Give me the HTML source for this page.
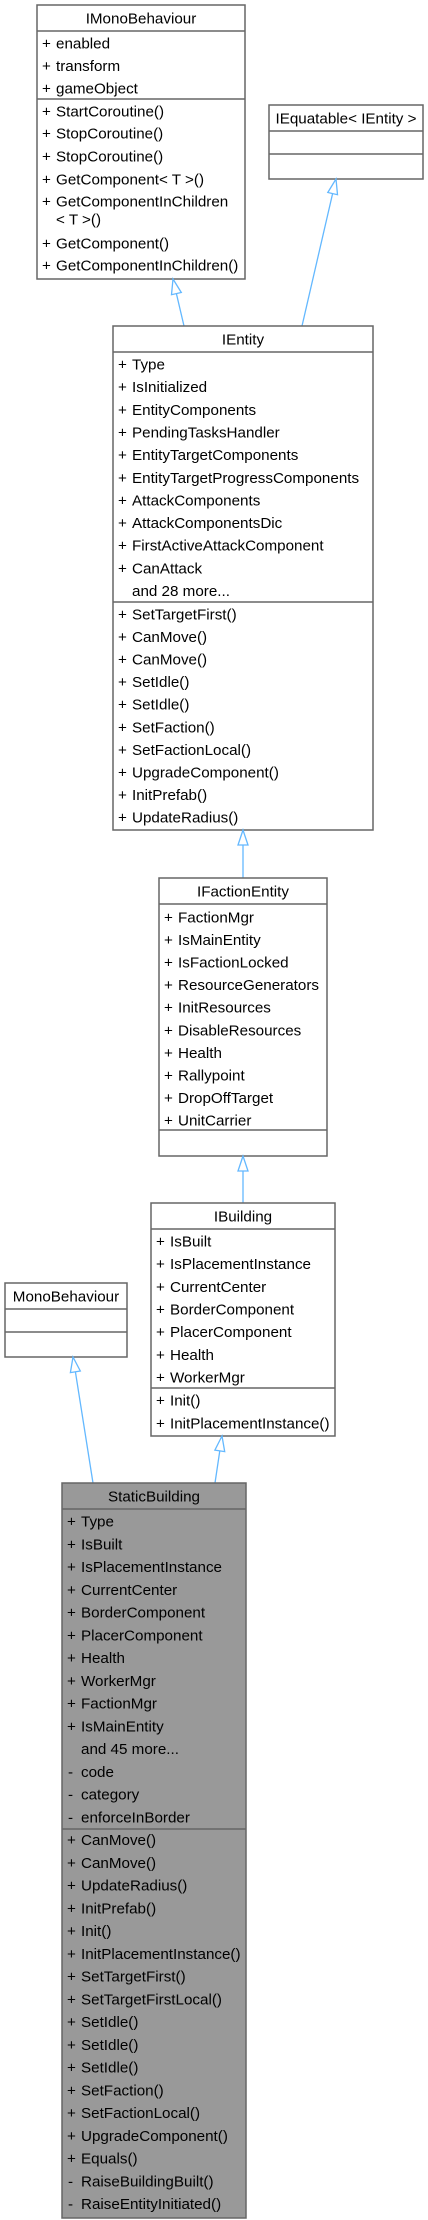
<!DOCTYPE html>
<html><head><meta charset="utf-8"><style>
html,body{margin:0;padding:0;background:#fff;}
svg{display:block;}
text{font-family:"Liberation Sans",Arial,sans-serif;font-size:15.2px;fill:#000;}
.t{text-anchor:middle;}
.b{fill:#fff;stroke:#666;stroke-width:1.5;}
.s{fill:#999;stroke:#666;stroke-width:1.5;}
.l{stroke:#666;stroke-width:1.5;}
.a{stroke:#63b8ff;stroke-width:1.3;fill:none;}
.h{stroke:#63b8ff;stroke-width:1.3;fill:#fff;}
</style></head><body>
<svg width="428" height="2220" viewBox="0 0 428 2220" xmlns="http://www.w3.org/2000/svg">
<rect class="b" x="37" y="5" width="208" height="274"/>
<line class="l" x1="37" y1="31" x2="245" y2="31"/>
<line class="l" x1="37" y1="99" x2="245" y2="99"/>
<text class="t" x="141" y="23.5">IMonoBehaviour</text>
<g>
<text x="42" y="48.5">+</text><text x="56" y="48.5">enabled</text>
<text x="42" y="71">+</text><text x="56" y="71">transform</text>
<text x="42" y="93.5">+</text><text x="56" y="93.5">gameObject</text>
<text x="42" y="116.5">+</text><text x="56" y="116.5">StartCoroutine()</text>
<text x="42" y="138.5">+</text><text x="56" y="138.5">StopCoroutine()</text>
<text x="42" y="161.5">+</text><text x="56" y="161.5">StopCoroutine()</text>
<text x="42" y="184.5">+</text><text x="56" y="184.5">GetComponent&lt; T &gt;()</text>
<text x="42" y="206.5">+</text><text x="56" y="206.5">GetComponentInChildren</text>
<text x="56" y="224.5">&lt; T &gt;()</text>
<text x="42" y="248.5">+</text><text x="56" y="248.5">GetComponent()</text>
<text x="42" y="270.5">+</text><text x="56" y="270.5">GetComponentInChildren()</text>
</g>
<rect class="b" x="269" y="105" width="154" height="74"/>
<line class="l" x1="269" y1="131" x2="423" y2="131"/>
<line class="l" x1="269" y1="154" x2="423" y2="154"/>
<text class="t" x="346" y="123.5">IEquatable&lt; IEntity &gt;</text>
<line class="a" x1="176.4" y1="293.6" x2="184" y2="326"/>
<polygon class="h" points="173,279 171.5,294.7 181.3,292.5"/>
<line class="a" x1="332.6" y1="193.6" x2="302" y2="326"/>
<polygon class="h" points="336,179 327.8,192.5 337.5,194.7"/>
<rect class="b" x="113" y="326" width="260" height="504"/>
<line class="l" x1="113" y1="352" x2="373" y2="352"/>
<line class="l" x1="113" y1="602" x2="373" y2="602"/>
<text class="t" x="243" y="344.5">IEntity</text>
<g>
<text x="118" y="369.5">+</text><text x="132" y="369.5">Type</text>
<text x="118" y="392.2">+</text><text x="132" y="392.2">IsInitialized</text>
<text x="118" y="414.8">+</text><text x="132" y="414.8">EntityComponents</text>
<text x="118" y="437.5">+</text><text x="132" y="437.5">PendingTasksHandler</text>
<text x="118" y="460.1">+</text><text x="132" y="460.1">EntityTargetComponents</text>
<text x="118" y="482.8">+</text><text x="132" y="482.8">EntityTargetProgressComponents</text>
<text x="118" y="505.4">+</text><text x="132" y="505.4">AttackComponents</text>
<text x="118" y="528.1">+</text><text x="132" y="528.1">AttackComponentsDic</text>
<text x="118" y="550.7">+</text><text x="132" y="550.7">FirstActiveAttackComponent</text>
<text x="118" y="573.4">+</text><text x="132" y="573.4">CanAttack</text>
<text x="132" y="596">and 28 more...</text>
<text x="118" y="619.5">+</text><text x="132" y="619.5">SetTargetFirst()</text>
<text x="118" y="642">+</text><text x="132" y="642">CanMove()</text>
<text x="118" y="664.6">+</text><text x="132" y="664.6">CanMove()</text>
<text x="118" y="687.2">+</text><text x="132" y="687.2">SetIdle()</text>
<text x="118" y="709.7">+</text><text x="132" y="709.7">SetIdle()</text>
<text x="118" y="732.3">+</text><text x="132" y="732.3">SetFaction()</text>
<text x="118" y="754.9">+</text><text x="132" y="754.9">SetFactionLocal()</text>
<text x="118" y="777.4">+</text><text x="132" y="777.4">UpgradeComponent()</text>
<text x="118" y="800">+</text><text x="132" y="800">InitPrefab()</text>
<text x="118" y="822.5">+</text><text x="132" y="822.5">UpdateRadius()</text>
</g>
<line class="a" x1="243" y1="845" x2="243" y2="878"/>
<polygon class="h" points="243,830 238,845 248,845"/>
<rect class="b" x="159" y="878" width="168" height="278"/>
<line class="l" x1="159" y1="904" x2="327" y2="904"/>
<line class="l" x1="159" y1="1130" x2="327" y2="1130"/>
<text class="t" x="243" y="896.5">IFactionEntity</text>
<g>
<text x="164" y="922.5">+</text><text x="178" y="922.5">FactionMgr</text>
<text x="164" y="945.1">+</text><text x="178" y="945.1">IsMainEntity</text>
<text x="164" y="967.6">+</text><text x="178" y="967.6">IsFactionLocked</text>
<text x="164" y="990.2">+</text><text x="178" y="990.2">ResourceGenerators</text>
<text x="164" y="1012.7">+</text><text x="178" y="1012.7">InitResources</text>
<text x="164" y="1035.3">+</text><text x="178" y="1035.3">DisableResources</text>
<text x="164" y="1057.9">+</text><text x="178" y="1057.9">Health</text>
<text x="164" y="1080.4">+</text><text x="178" y="1080.4">Rallypoint</text>
<text x="164" y="1103">+</text><text x="178" y="1103">DropOffTarget</text>
<text x="164" y="1125.5">+</text><text x="178" y="1125.5">UnitCarrier</text>
</g>
<line class="a" x1="243" y1="1171" x2="243" y2="1203"/>
<polygon class="h" points="243,1156 238,1171 248,1171"/>
<rect class="b" x="151" y="1203" width="184" height="233"/>
<line class="l" x1="151" y1="1229" x2="335" y2="1229"/>
<line class="l" x1="151" y1="1388" x2="335" y2="1388"/>
<text class="t" x="243" y="1221.5">IBuilding</text>
<g>
<text x="156" y="1246.5">+</text><text x="170" y="1246.5">IsBuilt</text>
<text x="156" y="1269.2">+</text><text x="170" y="1269.2">IsPlacementInstance</text>
<text x="156" y="1291.8">+</text><text x="170" y="1291.8">CurrentCenter</text>
<text x="156" y="1314.5">+</text><text x="170" y="1314.5">BorderComponent</text>
<text x="156" y="1337.2">+</text><text x="170" y="1337.2">PlacerComponent</text>
<text x="156" y="1359.8">+</text><text x="170" y="1359.8">Health</text>
<text x="156" y="1382.5">+</text><text x="170" y="1382.5">WorkerMgr</text>
<text x="156" y="1405.5">+</text><text x="170" y="1405.5">Init()</text>
<text x="156" y="1428.5">+</text><text x="170" y="1428.5">InitPlacementInstance()</text>
</g>
<rect class="b" x="5" y="1283" width="122" height="74"/>
<line class="l" x1="5" y1="1309" x2="127" y2="1309"/>
<line class="l" x1="5" y1="1332" x2="127" y2="1332"/>
<text class="t" x="66" y="1301.5">MonoBehaviour</text>
<line class="a" x1="75.4" y1="1371.8" x2="93" y2="1483"/>
<polygon class="h" points="73,1357 70.4,1372.6 80.3,1371"/>
<line class="a" x1="219.8" y1="1450.8" x2="215" y2="1483"/>
<polygon class="h" points="222,1436 214.9,1450.1 224.7,1451.6"/>
<rect class="s" x="62" y="1483" width="184" height="735"/>
<line class="l" x1="62" y1="1509" x2="246" y2="1509"/>
<line class="l" x1="62" y1="1829" x2="246" y2="1829"/>
<text class="t" x="154" y="1501.5">StaticBuilding</text>
<g>
<text x="67" y="1526.5">+</text><text x="81" y="1526.5">Type</text>
<text x="67" y="1549.3">+</text><text x="81" y="1549.3">IsBuilt</text>
<text x="67" y="1572">+</text><text x="81" y="1572">IsPlacementInstance</text>
<text x="67" y="1594.8">+</text><text x="81" y="1594.8">CurrentCenter</text>
<text x="67" y="1617.5">+</text><text x="81" y="1617.5">BorderComponent</text>
<text x="67" y="1640.3">+</text><text x="81" y="1640.3">PlacerComponent</text>
<text x="67" y="1663">+</text><text x="81" y="1663">Health</text>
<text x="67" y="1685.8">+</text><text x="81" y="1685.8">WorkerMgr</text>
<text x="67" y="1708.5">+</text><text x="81" y="1708.5">FactionMgr</text>
<text x="67" y="1731.3">+</text><text x="81" y="1731.3">IsMainEntity</text>
<text x="81" y="1754">and 45 more...</text>
<text x="68" y="1776.8">-</text><text x="81" y="1776.8">code</text>
<text x="68" y="1799.5">-</text><text x="81" y="1799.5">category</text>
<text x="68" y="1822.3">-</text><text x="81" y="1822.3">enforceInBorder</text>
<text x="67" y="1845">+</text><text x="81" y="1845">CanMove()</text>
<text x="67" y="1867.8">+</text><text x="81" y="1867.8">CanMove()</text>
<text x="67" y="1890.5">+</text><text x="81" y="1890.5">UpdateRadius()</text>
<text x="67" y="1913.3">+</text><text x="81" y="1913.3">InitPrefab()</text>
<text x="67" y="1936">+</text><text x="81" y="1936">Init()</text>
<text x="67" y="1958.8">+</text><text x="81" y="1958.8">InitPlacementInstance()</text>
<text x="67" y="1981.5">+</text><text x="81" y="1981.5">SetTargetFirst()</text>
<text x="67" y="2004.3">+</text><text x="81" y="2004.3">SetTargetFirstLocal()</text>
<text x="67" y="2027">+</text><text x="81" y="2027">SetIdle()</text>
<text x="67" y="2049.8">+</text><text x="81" y="2049.8">SetIdle()</text>
<text x="67" y="2072.5">+</text><text x="81" y="2072.5">SetIdle()</text>
<text x="67" y="2095.3">+</text><text x="81" y="2095.3">SetFaction()</text>
<text x="67" y="2118">+</text><text x="81" y="2118">SetFactionLocal()</text>
<text x="67" y="2140.8">+</text><text x="81" y="2140.8">UpgradeComponent()</text>
<text x="67" y="2163.5">+</text><text x="81" y="2163.5">Equals()</text>
<text x="68" y="2186.3">-</text><text x="81" y="2186.3">RaiseBuildingBuilt()</text>
<text x="68" y="2209">-</text><text x="81" y="2209">RaiseEntityInitiated()</text>
</g>
</svg>
</body></html>
